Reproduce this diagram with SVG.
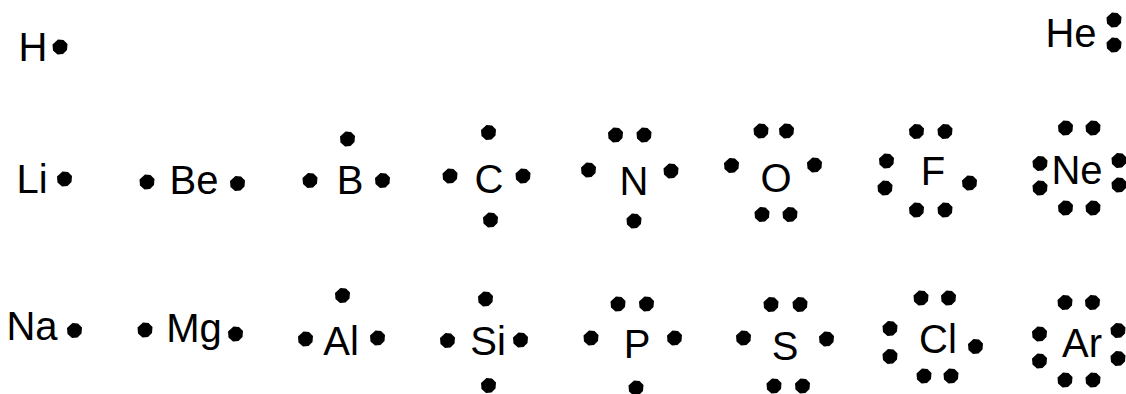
<svg xmlns="http://www.w3.org/2000/svg" xmlns:xlink="http://www.w3.org/1999/xlink" width="1126" height="394" viewBox="0 0 1126 394">
<style>
text{font-family:"Liberation Sans",Arial,sans-serif;font-size:40px;fill:#000;text-anchor:middle}
</style>
<defs>
<path id="d" d="M-2,-7.5 L3.5,-7 L7.5,-3 L7,3 L3,7 L-2.5,7.5 L-7,3.5 L-7.5,-2.5 Z" fill="#000"/>
</defs>
<rect width="1126" height="394" fill="#fff"/>
<g id="H"><text x="33" y="61">H</text><use href="#d" x="60" y="47"/></g>
<g id="He"><text x="1071" y="47">He</text><use href="#d" x="1114" y="20"/><use href="#d" x="1114" y="45"/></g>
<g id="Li"><text x="32" y="193">Li</text><use href="#d" x="64.5" y="179"/></g>
<g id="Be"><use href="#d" x="147" y="182"/><text x="194" y="194">Be</text><use href="#d" x="237.5" y="183.5"/></g>
<g id="B"><use href="#d" x="347.5" y="139"/><use href="#d" x="310" y="180.5"/><text x="350" y="194">B</text><use href="#d" x="382.5" y="180.5"/></g>
<g id="C"><use href="#d" x="488.5" y="132.5"/><use href="#d" x="450" y="176"/><text x="489" y="193">C</text><use href="#d" x="523" y="176"/><use href="#d" x="490.5" y="220"/></g>
<g id="N"><use href="#d" x="615.5" y="135"/><use href="#d" x="644" y="135"/><use href="#d" x="588.5" y="170"/><text x="634" y="195">N</text><use href="#d" x="671" y="171"/><use href="#d" x="634" y="221"/></g>
<g id="O"><use href="#d" x="761" y="131"/><use href="#d" x="786.5" y="131"/><use href="#d" x="731.5" y="165.5"/><text x="776" y="192">O</text><use href="#d" x="814.5" y="165"/><use href="#d" x="762" y="214.5"/><use href="#d" x="790" y="214.5"/></g>
<g id="F"><use href="#d" x="916.5" y="131.5"/><use href="#d" x="945" y="131.5"/><use href="#d" x="886.5" y="161"/><use href="#d" x="885" y="188"/><text x="933" y="185">F</text><use href="#d" x="969.5" y="183"/><use href="#d" x="916.5" y="210"/><use href="#d" x="945" y="210"/></g>
<g id="Ne"><use href="#d" x="1065.5" y="128"/><use href="#d" x="1093" y="128"/><use href="#d" x="1040" y="163.5"/><use href="#d" x="1040" y="188"/><text x="1077" y="184">Ne</text><use href="#d" x="1119" y="160.5"/><use href="#d" x="1119" y="185"/><use href="#d" x="1065.5" y="208"/><use href="#d" x="1093" y="208"/></g>
<g id="Na"><text x="32" y="340">Na</text><use href="#d" x="74.5" y="330.5"/></g>
<g id="Mg"><use href="#d" x="145" y="330"/><text x="194" y="342">Mg</text><use href="#d" x="235.5" y="334"/></g>
<g id="Al"><use href="#d" x="342.5" y="295.5"/><use href="#d" x="305.5" y="339"/><text x="341" y="355">Al</text><use href="#d" x="377.5" y="338"/></g>
<g id="Si"><use href="#d" x="485.5" y="299"/><use href="#d" x="447.5" y="340.5"/><text x="488" y="355">Si</text><use href="#d" x="520.5" y="340"/><use href="#d" x="488.5" y="385.5"/></g>
<g id="P"><use href="#d" x="618" y="304"/><use href="#d" x="646.5" y="304"/><use href="#d" x="591" y="338"/><text x="637" y="358">P</text><use href="#d" x="674.5" y="338"/><use href="#d" x="636" y="388"/></g>
<g id="S"><use href="#d" x="771" y="304.5"/><use href="#d" x="800" y="304.5"/><use href="#d" x="743.5" y="338"/><text x="785" y="360">S</text><use href="#d" x="826.5" y="339"/><use href="#d" x="774" y="386"/><use href="#d" x="802.5" y="386"/></g>
<g id="Cl"><use href="#d" x="921" y="298"/><use href="#d" x="948.5" y="298"/><use href="#d" x="890" y="328.5"/><use href="#d" x="890" y="356.5"/><text x="938" y="353">Cl</text><use href="#d" x="975.5" y="346.5"/><use href="#d" x="924" y="376"/><use href="#d" x="951" y="376"/></g>
<g id="Ar"><use href="#d" x="1065" y="302.5"/><use href="#d" x="1092.5" y="302.5"/><use href="#d" x="1039.5" y="334"/><use href="#d" x="1039.5" y="361"/><text x="1082" y="357">Ar</text><use href="#d" x="1118" y="330.5"/><use href="#d" x="1118" y="358.5"/><use href="#d" x="1065" y="380"/><use href="#d" x="1093" y="380"/></g>
</svg>
